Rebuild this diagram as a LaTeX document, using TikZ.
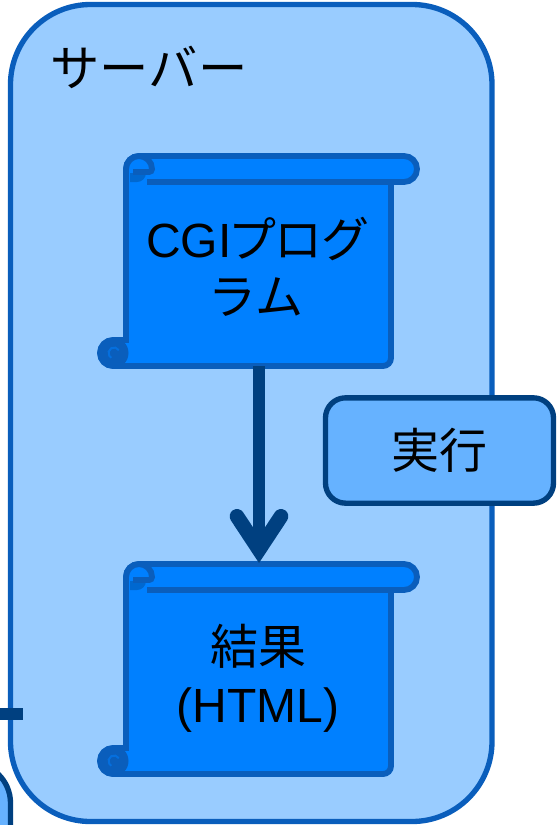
\documentclass[tikz,border=0pt]{standalone}
\usepackage{fontspec}
\setmainfont{Liberation Sans}
\newfontfamily\jpfont{Noto Sans CJK JP}
\newfontfamily\jppalt[RawFeature=+palt]{Noto Sans CJK JP}
\usetikzlibrary{arrows.meta}
\definecolor{serverfill}{HTML}{99CCFF}
\definecolor{serverline}{HTML}{0A5EBC}
\definecolor{scrollfill}{HTML}{0080FF}
\definecolor{scrollshade}{HTML}{0068D0}
\definecolor{stepfill}{HTML}{66B2FF}
\definecolor{flowline}{HTML}{004080}
\tikzset{
    scrollshape/.pic={
        \draw[scrollline, fill=scrollfill] (0,13) arc[start angle=180, end angle=270, radius=13] -- (278,0)
            arc[start angle=-90, end angle=90, radius=13] -- (265,26) -- (265,202)
            arc[start angle=0, end angle=90, radius=8] -- (-13,210)
            arc[start angle=90, end angle=270, radius=13] -- (0,184) -- cycle;
        \fill[serverline] (-13,197) circle (15.5);
        \draw[scrollfill!50!serverline, line width=1.5pt] (-7.2,194.2) arc[start angle=-30, end angle=-240, radius=5.5];
        \fill[scrollfill] (3,3) rectangle (25,24);
        \fill[scrollshade] (4,17) -- (20,17) arc[start angle=0, end angle=90, radius=9] -- (4,26) -- cycle;
        \draw[scrollline] (0,13) arc[start angle=180, end angle=270, radius=13]
            arc[start angle=-90, end angle=0, radius=13] arc[start angle=0, end angle=90, radius=3] -- (7,16);
        \draw[scrollline] (0,13) -- (0,27);
        \draw[scrollline] (21,26) -- (278,26);
        \coordinate (-top) at (133,-1);
        \coordinate (-bottom) at (133,210);
    },
    scrollline/.style={draw=serverline, line width=4.4pt},
    scrolltext/.style={font=\fontsize{36}{43.5}\selectfont, align=center, inner sep=0pt},
    flowarrow/.style={draw=flowline, line width=9pt, -{Straight Barb[length=25pt, width=33pt, line width=11pt, line cap=round, line join=miter]}},
}
\begin{document}
\begin{tikzpicture}[x=.75pt, y=-.75pt]
    \useasboundingbox (0,0) rectangle (557,825);
    \clip (0,0) rectangle (557,825);
    \draw[flowline, fill=stepfill, line width=4pt, rounded corners=30pt] (-200,763) rectangle (10.5,950) node[midway] (client) {};
    \draw[serverline, fill=serverfill, line width=4pt, rounded corners=60pt] (10.5,4.5) rectangle (492,821.5) node[midway] (server) {};
    \node[scrolltext, font=\fontsize{37}{43.5}\selectfont] (servername) at (149,67) {\jpfont サーバー};
    \pic (prog) at (126,156) {scrollshape};
    \pic (result) at (126,564) {scrollshape};
    \node[scrolltext] (progname) at (256,267) {CGI{\jppalt プログ}\\[-1pt]{\jpfont ラム}};
    \node[scrolltext] (resultname) at (258,678) {{\jpfont 結果}\\(HTML)};
    \path[flowarrow] (prog-bottom) -- (result-top);
    \node[draw=flowline, fill=stepfill, line width=4pt, rounded corners=15pt, minimum width=171pt, minimum height=79pt, font=\fontsize{36}{43.5}\selectfont] (run) at (439.5,450.5) {\jpfont 実行};
    \coordinate (stubstart) at (-2,714);
    \coordinate (stubend) at (23,714);
    \draw[flowline, line width=9pt] (stubstart) -- (stubend);
\end{tikzpicture}
\end{document}
